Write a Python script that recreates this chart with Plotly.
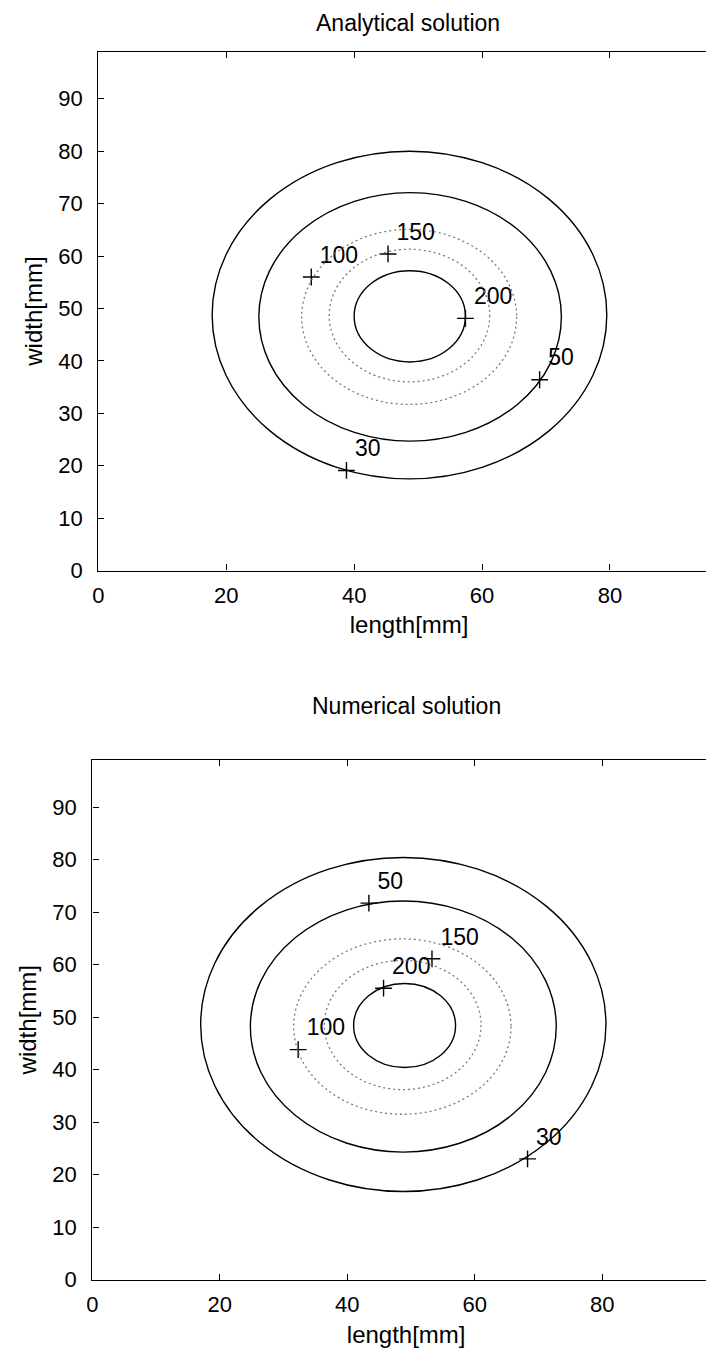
import plotly.graph_objects as go

# ---- data ----
levels = [30, 50, 100, 150, 200]
level_dash = ["solid", "solid", "2px,3px", "2px,3px", "solid"]
level_color = ["#000000", "#000000", "#7a7a7a", "#7a7a7a", "#000000"]

# Analytical solution: extents of each contour line [mm]
ana_left = [17.8, 25.1, 31.8, 36.1, 40.0]
ana_right = [79.5, 72.4, 65.4, 61.2, 57.4]
ana_bottom = [17.5, 24.7, 31.7, 36.0, 39.8]
ana_top = [80.0, 72.1, 65.1, 61.3, 57.2]
ana_label_x = [38.8, 69.0, 33.3, 45.3, 57.4]
ana_label_y = [19.1, 36.4, 56.0, 60.4, 48.1]

# Numerical solution: extents of each contour line [mm]
num_left = [17.0, 24.8, 31.6, 36.4, 41.0]
num_right = [80.6, 72.8, 65.7, 61.0, 57.0]
num_bottom = [16.8, 24.3, 31.5, 36.2, 40.4]
num_top = [80.4, 72.1, 64.9, 60.8, 56.4]
num_label_x = [68.3, 43.4, 32.3, 53.3, 45.7]
num_label_y = [23.0, 71.7, 43.8, 61.1, 55.5]

x_ticks = [0, 20, 40, 60, 80]
y_ticks = [0, 10, 20, 30, 40, 50, 60, 70, 80, 90]
titles = ["Analytical solution", "Numerical solution"]
x_title = "length[mm]"
y_title = "width[mm]"

W, H = 714, 1360
FONT = "Liberation Sans, Arial, Helvetica, sans-serif"

fig = go.Figure()

panels = [
    dict(xa="x", ya="y", left=ana_left, right=ana_right, bottom=ana_bottom, top=ana_top,
         lx=ana_label_x, ly=ana_label_y),
    dict(xa="x2", ya="y2", left=num_left, right=num_right, bottom=num_bottom, top=num_top,
         lx=num_label_x, ly=num_label_y),
]

shapes = []
for p in panels:
    for i, lev in enumerate(levels):
        solid = level_dash[i] == "solid"
        shapes.append(dict(
            type="circle", xref=p["xa"], yref=p["ya"],
            x0=p["left"][i], x1=p["right"][i], y0=p["bottom"][i], y1=p["top"][i],
            line=dict(color=level_color[i], width=1.4 if solid else 1.3, dash=level_dash[i]),
            layer="above",
        ))
    fig.add_trace(go.Scatter(
        x=p["lx"], y=p["ly"], xaxis=p["xa"], yaxis=p["ya"],
        mode="markers+text", text=[str(v) for v in levels],
        textposition="top right",
        textfont=dict(family=FONT, size=23, color="black"),
        marker=dict(symbol="cross-thin", size=12, line=dict(width=1.4, color="black"), color="black"),
        showlegend=False, hoverinfo="skip", cliponaxis=False,
    ))

axis_common = dict(
    showline=True, linecolor="black", linewidth=1.4, mirror="ticks",
    ticks="inside", ticklen=6, tickwidth=1, tickcolor="black",
    showgrid=False, zeroline=False,
    tickfont=dict(family=FONT, size=22, color="black"),
    title_font=dict(family=FONT, size=24, color="black"),
)

xa = dict(axis_common, tickvals=x_ticks, ticklabelstandoff=5,
          title=dict(text=x_title, standoff=9))
ya = dict(axis_common, tickvals=y_ticks, ticklabelstandoff=10,
          title=dict(text=y_title, standoff=8))

fig.update_layout(
    width=W, height=H,
    margin=dict(l=0, r=0, t=0, b=0),
    paper_bgcolor="white", plot_bgcolor="white",
    shapes=shapes,
    xaxis=dict(xa, domain=[85 / W, 712 / W], range=[0, 97.2], anchor="y"),
    yaxis=dict(ya, domain=[1 - 568 / H, 1 - 44 / H], range=[0, 99], anchor="x"),
    xaxis2=dict(xa, domain=[79 / W, 712 / W], range=[0, 98.5], anchor="y2"),
    yaxis2=dict(ya, domain=[1 - 1284 / H, 1 - 759 / H], range=[0, 99], anchor="x2"),
    annotations=[
        dict(text=titles[0], xref="paper", yref="paper", x=397 / W, y=1 - 15 / H,
             showarrow=False, font=dict(family=FONT, size=23, color="black"),
             xanchor="center", yanchor="middle"),
        dict(text=titles[1], xref="paper", yref="paper", x=396 / W, y=1 - 705 / H,
             showarrow=False, font=dict(family=FONT, size=23, color="black"),
             xanchor="center", yanchor="middle"),
    ],
)

fig.write_html("out.html")
